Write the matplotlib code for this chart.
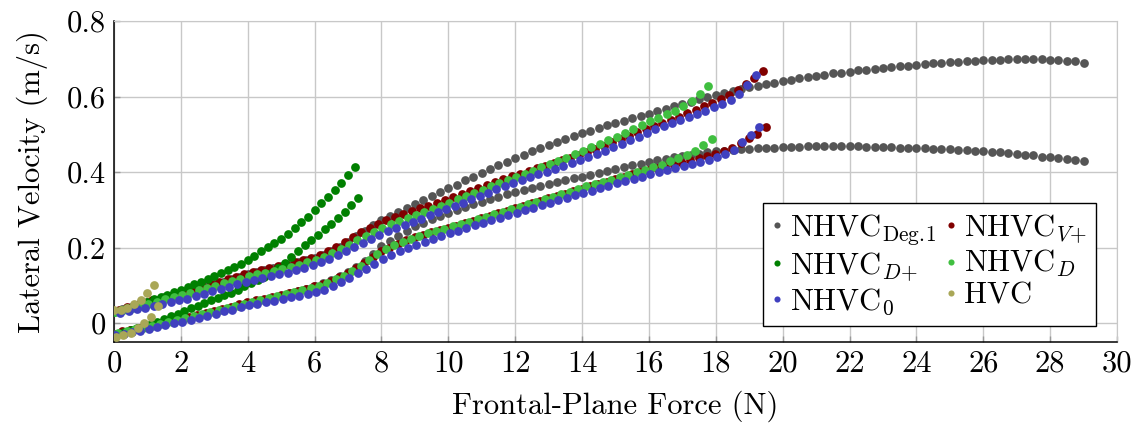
import numpy as np
import matplotlib.pyplot as plt

plt.rcParams['font.family'] = 'cmr10'
plt.rcParams['mathtext.fontset'] = 'cm'
plt.rcParams['axes.unicode_minus'] = False
plt.rcParams['axes.formatter.use_mathtext'] = True

step = 0.25

# NHVC Deg.1
deg1_up_x0 = 0.0
deg1_up = [0.032, 0.038, 0.044, 0.050, 0.056, 0.062, 0.068, 0.075, 0.081, 0.087,
           0.093, 0.100, 0.103, 0.109, 0.116, 0.123, 0.130, 0.135, 0.140, 0.145,
           0.150, 0.155, 0.161, 0.167, 0.173, 0.180, 0.190, 0.202, 0.215, 0.230,
           0.245, 0.259, 0.272, 0.283, 0.294, 0.305, 0.316, 0.326, 0.337, 0.347,
           0.357, 0.367, 0.378, 0.388, 0.398, 0.408, 0.418, 0.427, 0.437, 0.446,
           0.455, 0.463, 0.472, 0.480, 0.488, 0.496, 0.503, 0.510, 0.517, 0.524,
           0.530, 0.536, 0.543, 0.549, 0.555, 0.561, 0.568, 0.574, 0.580, 0.586,
           0.593, 0.599, 0.605, 0.610, 0.615, 0.620, 0.625, 0.629, 0.633, 0.637,
           0.641, 0.645, 0.648, 0.652, 0.655, 0.658, 0.661, 0.663, 0.666, 0.669,
           0.671, 0.674, 0.676, 0.678, 0.680, 0.682, 0.684, 0.686, 0.688, 0.689,
           0.691, 0.692, 0.694, 0.695, 0.696, 0.697, 0.698, 0.699, 0.699, 0.700,
           0.700, 0.699, 0.698, 0.697, 0.695, 0.693, 0.690]
deg1_lo_x0 = 0.0
deg1_lo = [-0.028, -0.024, -0.019, -0.015, -0.010, -0.005, -0.001, 0.004, 0.009, 0.014,
           0.019, 0.024, 0.029, 0.034, 0.039, 0.045, 0.050, 0.056, 0.061, 0.067,
           0.073, 0.079, 0.085, 0.091, 0.098, 0.106, 0.115, 0.125, 0.135, 0.149,
           0.165, 0.184, 0.203, 0.218, 0.232, 0.244, 0.256, 0.266, 0.275, 0.284,
           0.292, 0.300, 0.307, 0.315, 0.322, 0.329, 0.335, 0.342, 0.348, 0.353,
           0.358, 0.363, 0.368, 0.373, 0.378, 0.383, 0.388, 0.393, 0.398, 0.403,
           0.408, 0.413, 0.418, 0.422, 0.427, 0.431, 0.435, 0.439, 0.442, 0.446,
           0.449, 0.452, 0.455, 0.457, 0.459, 0.461, 0.462, 0.463, 0.464, 0.465,
           0.466, 0.467, 0.467, 0.468, 0.468, 0.468, 0.468, 0.468, 0.468, 0.468,
           0.467, 0.467, 0.467, 0.466, 0.465, 0.465, 0.464, 0.463, 0.462, 0.461,
           0.460, 0.459, 0.458, 0.456, 0.455, 0.453, 0.452, 0.450, 0.448, 0.446,
           0.444, 0.441, 0.439, 0.436, 0.434, 0.431, 0.428]

# NHVC V+
vp_up_x0 = 0.15
vp_up = [0.036, 0.042, 0.048, 0.054, 0.060, 0.066, 0.072, 0.078, 0.084, 0.090,
         0.096, 0.103, 0.109, 0.116, 0.123, 0.129, 0.135, 0.140, 0.145, 0.151,
         0.156, 0.162, 0.168, 0.173, 0.181, 0.191, 0.202, 0.215, 0.227, 0.240,
         0.252, 0.263, 0.272, 0.280, 0.288, 0.296, 0.304, 0.311, 0.319, 0.327,
         0.335, 0.342, 0.350, 0.358, 0.366, 0.373, 0.381, 0.389, 0.396, 0.403,
         0.410, 0.417, 0.424, 0.431, 0.438, 0.445, 0.453, 0.462, 0.470, 0.479,
         0.487, 0.496, 0.505, 0.514, 0.523, 0.531, 0.539, 0.547, 0.556, 0.565,
         0.574, 0.584, 0.594, 0.605, 0.618, 0.632, 0.648, 0.668]
vp_lo_x0 = 0.24
vp_lo = [-0.021, -0.017, -0.012, -0.008, -0.003, 0.002, 0.007, 0.012, 0.017, 0.022,
         0.028, 0.033, 0.038, 0.044, 0.050, 0.056, 0.061, 0.065, 0.070, 0.075,
         0.080, 0.086, 0.091, 0.097, 0.104, 0.112, 0.122, 0.133, 0.146, 0.160,
         0.175, 0.190, 0.200, 0.210, 0.219, 0.228, 0.234, 0.240, 0.246, 0.252,
         0.258, 0.265, 0.271, 0.278, 0.284, 0.291, 0.297, 0.304, 0.310, 0.317,
         0.323, 0.330, 0.336, 0.343, 0.349, 0.356, 0.362, 0.369, 0.375, 0.382,
         0.388, 0.394, 0.399, 0.405, 0.410, 0.415, 0.420, 0.425, 0.431, 0.437,
         0.443, 0.449, 0.456, 0.465, 0.476, 0.489, 0.501, 0.520]

# NHVC D+ (force step 0.2 N)
dp_step = 0.2
dp_up_x0 = 0.0
dp_up = [0.030, 0.035, 0.040, 0.045, 0.051, 0.057, 0.063, 0.069, 0.075, 0.082,
         0.089, 0.096, 0.103, 0.110, 0.117, 0.124, 0.132, 0.140, 0.148, 0.157,
         0.166, 0.178, 0.190, 0.201, 0.211, 0.222, 0.237, 0.251, 0.268, 0.282,
         0.299, 0.317, 0.334, 0.352, 0.371, 0.393, 0.414]
dp_lo_x0 = 0.1
dp_lo = [-0.028, -0.023, -0.018, -0.013, -0.008, -0.002, 0.004, 0.011, 0.018, 0.025,
         0.032, 0.039, 0.046, 0.053, 0.060, 0.067, 0.074, 0.081, 0.089, 0.097,
         0.105, 0.113, 0.123, 0.134, 0.146, 0.160, 0.176, 0.192, 0.206, 0.220,
         0.233, 0.248, 0.263, 0.278, 0.294, 0.313, 0.331]

# NHVC D
d_up_x0 = 0.03
d_up = [0.029, 0.034, 0.040, 0.045, 0.051, 0.057, 0.063, 0.069, 0.075, 0.081,
        0.087, 0.093, 0.099, 0.105, 0.111, 0.118, 0.124, 0.129, 0.134, 0.139,
        0.144, 0.149, 0.155, 0.161, 0.167, 0.176, 0.186, 0.197, 0.208, 0.220,
        0.231, 0.242, 0.253, 0.262, 0.270, 0.279, 0.287, 0.295, 0.303, 0.311,
        0.319, 0.328, 0.336, 0.345, 0.353, 0.362, 0.370, 0.379, 0.387, 0.396,
        0.404, 0.413, 0.421, 0.430, 0.438, 0.447, 0.456, 0.466, 0.475, 0.485,
        0.494, 0.504, 0.514, 0.524, 0.534, 0.544, 0.553, 0.563, 0.574, 0.588,
        0.606, 0.628]
d_lo_x0 = 0.13
d_lo = [-0.025, -0.021, -0.016, -0.012, -0.007, -0.002, 0.003, 0.008, 0.013, 0.018,
        0.023, 0.029, 0.034, 0.040, 0.045, 0.051, 0.057, 0.061, 0.066, 0.071,
        0.076, 0.082, 0.087, 0.093, 0.099, 0.107, 0.116, 0.126, 0.138, 0.152,
        0.167, 0.183, 0.196, 0.206, 0.215, 0.224, 0.232, 0.238, 0.244, 0.250,
        0.257, 0.263, 0.269, 0.276, 0.282, 0.289, 0.295, 0.302, 0.308, 0.315,
        0.321, 0.328, 0.335, 0.341, 0.348, 0.355, 0.362, 0.368, 0.374, 0.380,
        0.386, 0.393, 0.399, 0.406, 0.413, 0.420, 0.428, 0.436, 0.445, 0.456,
        0.471, 0.488]

# NHVC 0
z_up_x0 = 0.19
z_up = [0.028, 0.032, 0.037, 0.041, 0.046, 0.050, 0.055, 0.060, 0.065, 0.071,
        0.077, 0.084, 0.090, 0.096, 0.103, 0.109, 0.115, 0.119, 0.124, 0.129,
        0.134, 0.140, 0.146, 0.153, 0.161, 0.170, 0.181, 0.192, 0.202, 0.213,
        0.224, 0.234, 0.243, 0.251, 0.260, 0.269, 0.277, 0.286, 0.294, 0.302,
        0.311, 0.319, 0.328, 0.337, 0.345, 0.354, 0.362, 0.371, 0.379, 0.386,
        0.394, 0.401, 0.409, 0.416, 0.424, 0.431, 0.439, 0.448, 0.457, 0.466,
        0.475, 0.485, 0.494, 0.504, 0.513, 0.521, 0.530, 0.538, 0.546, 0.555,
        0.563, 0.571, 0.580, 0.592, 0.608, 0.630, 0.656]
z_lo_x0 = 0.04
z_lo = [-0.032, -0.028, -0.024, -0.020, -0.015, -0.011, -0.006, -0.001, 0.004, 0.009,
        0.014, 0.019, 0.025, 0.031, 0.036, 0.042, 0.048, 0.051, 0.055, 0.059,
        0.064, 0.068, 0.072, 0.077, 0.082, 0.089, 0.098, 0.108, 0.120, 0.132,
        0.144, 0.156, 0.169, 0.180, 0.190, 0.198, 0.206, 0.215, 0.223, 0.230,
        0.238, 0.245, 0.252, 0.259, 0.266, 0.273, 0.279, 0.286, 0.292, 0.299,
        0.306, 0.312, 0.319, 0.325, 0.332, 0.338, 0.345, 0.351, 0.358, 0.364,
        0.370, 0.376, 0.382, 0.388, 0.394, 0.399, 0.405, 0.410, 0.416, 0.422,
        0.427, 0.433, 0.439, 0.447, 0.459, 0.480, 0.498, 0.520]

# HVC
hvc_up_x = [0.0, 0.2, 0.4, 0.6, 0.8, 1.0, 1.2]
hvc_up = [0.034, 0.036, 0.041, 0.050, 0.061, 0.079, 0.101]
hvc_lo_x = [0.07, 0.27, 0.5, 0.72, 0.9, 1.1, 1.32]
hvc_lo = [-0.037, -0.032, -0.026, -0.014, -0.001, 0.017, 0.045]

xticks = list(range(0, 31, 2))
yticks = [0, 0.2, 0.4, 0.6, 0.8]
ytick_labels = ['0', '0.2', '0.4', '0.6', '0.8']


def xs(x0, vals, dx=step):
    return x0 + dx * np.arange(len(vals))


fig = plt.figure(figsize=(11.42, 4.28), dpi=100)
ax = fig.add_axes([114 / 1142, 86 / 428, 1003 / 1142, 321 / 428])

ms = 6.3
series = [
    ('NHVC$_{\\mathrm{Deg.\\!1}}$', '#555555', [(xs(deg1_up_x0, deg1_up), deg1_up), (xs(deg1_lo_x0, deg1_lo), deg1_lo)]),
    ('NHVC$_{V\\!+}$', '#800000', [(xs(vp_up_x0, vp_up), vp_up), (xs(vp_lo_x0, vp_lo), vp_lo)]),
    ('NHVC$_{D\\!+}$', '#008000', [(xs(dp_up_x0, dp_up, dp_step), dp_up), (xs(dp_lo_x0, dp_lo, dp_step), dp_lo)]),
    ('NHVC$_{D}$', '#40bf40', [(xs(d_up_x0, d_up), d_up), (xs(d_lo_x0, d_lo), d_lo)]),
    ('NHVC$_0$', '#4040bf', [(xs(z_up_x0, z_up), z_up), (xs(z_lo_x0, z_lo), z_lo)]),
    ('HVC', '#a9a757', [(hvc_up_x, hvc_up), (hvc_lo_x, hvc_lo)]),
]

handles = []
for label, color, branches in series:
    h = None
    for bx, by in branches:
        line, = ax.plot(bx, by, 'o', ms=ms, color=color, mec='none', zorder=3)
        if h is None:
            h = line
    handles.append((h, label))

ax.set_xlim(0, 30)
ax.set_ylim(-0.05, 0.8)
ax.set_xticks(xticks)
ax.set_xticklabels([str(t) for t in xticks])
ax.set_yticks(yticks)
ax.set_yticklabels(ytick_labels)
ax.grid(True, color='#c8c8c8', linewidth=1.0, zorder=0)
ax.set_axisbelow(True)
ax.tick_params(direction='in', length=4, width=1, color='#999999', labelsize=22, pad=6)
for s in ['top', 'right']:
    ax.spines[s].set_color('#c8c8c8')
for s in ['left', 'bottom']:
    ax.spines[s].set_color('black')
    ax.spines[s].set_linewidth(1.1)

ax.set_xlabel('Frontal-Plane Force (N)', fontsize=22, labelpad=9)
ax.set_ylabel('Lateral Velocity (m/s)', fontsize=22, labelpad=13)

order = [0, 2, 4, 1, 3, 5]
leg = ax.legend([handles[i][0] for i in order], [handles[i][1] for i in order],
                ncol=2, loc='lower right', bbox_to_anchor=(0.979, 0.05),
                fontsize=22, frameon=True, fancybox=False, framealpha=1,
                edgecolor='black', markerscale=0.7, handlelength=0.35,
                handletextpad=0.25, columnspacing=0.3, labelspacing=0.1,
                borderpad=0.3, borderaxespad=0)
leg.get_frame().set_linewidth(1.0)

plt.savefig('out.png', dpi=100)
